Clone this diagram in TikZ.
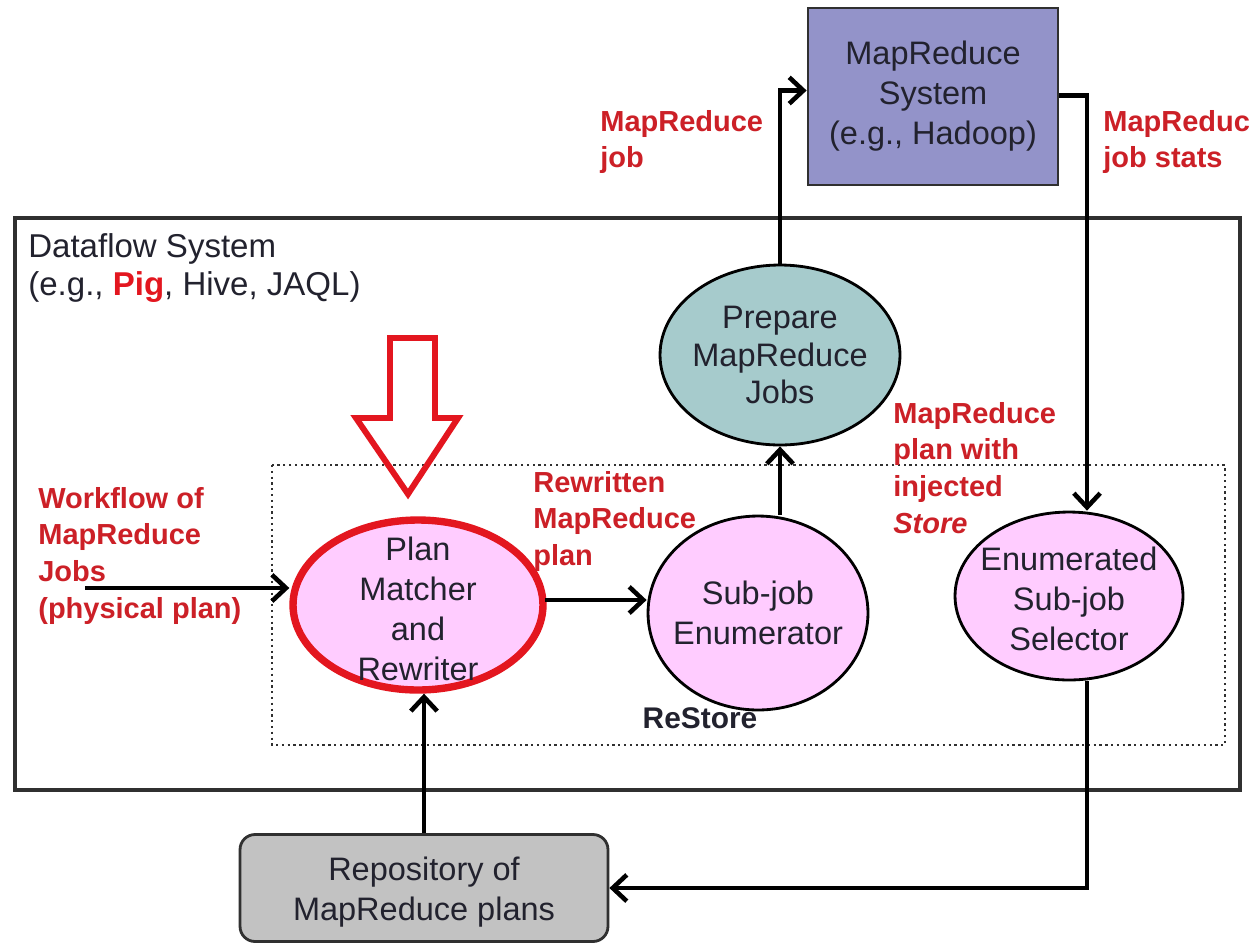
\documentclass[tikz,border=0pt]{standalone}
\usepackage{fontspec}
\setmainfont{Liberation Sans}
\usetikzlibrary{arrows.meta,shapes.geometric}
\definecolor{lblred}{HTML}{CC2027}
\definecolor{hotred}{HTML}{E3161F}
\definecolor{pinkfill}{HTML}{FFCCFF}
\definecolor{tealfill}{HTML}{A6CBCC}
\definecolor{sysfill}{HTML}{9393C9}
\definecolor{repofill}{HTML}{C2C2C2}
\definecolor{inktext}{HTML}{22222E}
\definecolor{frame}{HTML}{303030}
\begin{document}
\begin{tikzpicture}[x=0.02cm,y=-0.02cm,
  nodetext/.style={text=inktext,align=center,inner sep=0pt,
    font=\fontsize{18.5}{22.8}\selectfont},
  lbl/.style={text=lblred,align=left,anchor=north west,inner sep=0pt,
    font=\fontsize{16.5}{20.8}\selectfont\bfseries},
  blob/.style={ellipse,draw=black,line width=1.6pt,inner sep=0pt},
  arr/.style={draw=black,line width=2.8pt,
    -{Straight Barb[length=8pt,width=15pt,line width=2.6pt]}}]
\useasboundingbox (0,0) rectangle (1260,947);
\fill[white] (0,0) rectangle (1260,947);

% dataflow system frame and the dotted ReStore region
\draw[frame,line width=2.1pt] (15,218) rectangle (1240,790);
\draw[frame,line width=1.3pt,dotted] (272,465) rectangle (1225,745);
\node[anchor=north west,inner sep=0pt,text=inktext,align=left,
  font=\fontsize{18.8}{21.5}\selectfont] (dfs) at (28,233)
  {Dataflow System\\(e.g., \textcolor{hotred}{\bfseries Pig}, Hive, JAQL)};
\node[font=\fontsize{17}{20}\selectfont\bfseries,text=inktext,inner sep=0pt]
  (restore) at (700,718) {ReStore};

% components
\node[draw=frame,line width=1.6pt,fill=sysfill,minimum width=5cm,
  minimum height=3.54cm,inner sep=0pt] (sys) at (933,96.5) {};
\node[nodetext] at (sys) {MapReduce\\System\\(e.g., Hadoop)};

\node[blob,fill=tealfill,minimum width=4.8cm,minimum height=3.6cm]
  (prep) at (780,355) {};
\node[nodetext,font=\fontsize{18.5}{21.5}\selectfont] at (prep)
  {Prepare\\MapReduce\\Jobs};

\node[blob,fill=pinkfill,draw=hotred,line width=4.2pt,minimum width=5cm,
  minimum height=3.4cm] (pm) at (418,605) {};
\node[nodetext] at (418,609) {Plan\\Matcher\\and\\Rewriter};

\node[blob,fill=pinkfill,minimum width=4.4cm,minimum height=3.88cm]
  (sub) at (758,613) {};
\node[nodetext] at (sub) {Sub-job\\Enumerator};

\node[blob,fill=pinkfill,minimum width=4.56cm,minimum height=3.36cm]
  (sel) at (1069,596) {};
\node[nodetext] at (1069,599) {Enumerated\\Sub-job\\Selector};

\node[draw=frame,line width=1.6pt,fill=repofill,rounded corners=0.3cm,
  minimum width=7.36cm,minimum height=2.14cm,inner sep=0pt]
  (repo) at (424,888) {};
\node[nodetext] at (424,892) {Repository of\\MapReduce plans};

% hollow red arrow pointing at the plan matcher
\draw[hotred,line width=3.4pt,line join=miter]
  (390,338) -- (435,338) -- (435,418) -- (458,418) -- (408,494)
  -- (356,418) -- (390,418) -- cycle;

% connectors
\coordinate (win) at (85,588);
\coordinate (xcol) at (1087,0);
\draw[arr] (win) -- (win -| pm.west);
\draw[arr] (545,600) -- (545,600 -| sub.west);
\draw[arr] (prep.south |- sub.north) -- (prep.south);
\draw[arr] (prep.north) |- ([yshift=0.12cm]sys.west);
\draw[arr] ([yshift=0.02cm]sys.east) -| (sel.north -| xcol);
\draw[arr] (sel.south -| xcol) |- (repo.east);
\draw[arr] (repo.north) -- (repo.north |- pm.south);

% connector labels
\node[lbl] (ljob) at (600,110) {MapReduce\\job};
\node[lbl] (lstats) at (1103,110) {MapReduc\\job stats};
\node[lbl] (lwf) at (38,487) {Workflow of\\MapReduce\\Jobs\\(physical plan)};
\node[lbl] (lrw) at (533,471) {Rewritten\\MapReduce\\plan};
\node[lbl] (linj) at (893,402) {MapReduce\\plan with\\injected\\\textit{Store}};
\end{tikzpicture}
\end{document}
